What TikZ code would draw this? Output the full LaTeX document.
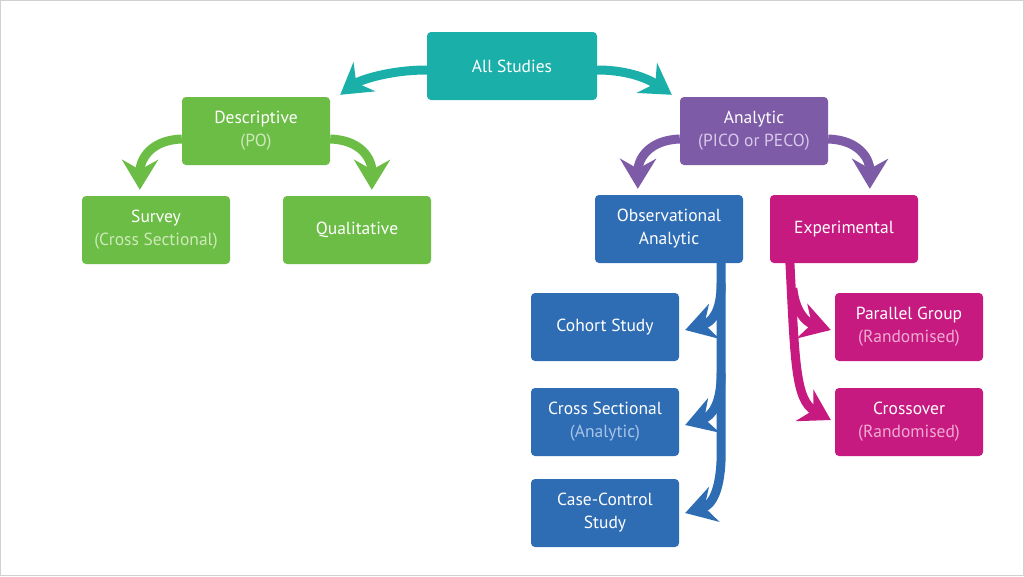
\documentclass[tikz,border=0pt]{standalone}
\usepackage{fontspec}
\setmainfont{PT Sans}
\usetikzlibrary{arrows.meta,calc}
\definecolor{cteal}{HTML}{1AAFA9}
\definecolor{cgreen}{HTML}{6CBD45}
\definecolor{cgreenl}{HTML}{CDE9B8}
\definecolor{cpurple}{HTML}{7D5BA6}
\definecolor{cpurplel}{HTML}{D8C8EA}
\definecolor{cblue}{HTML}{2E6DB4}
\definecolor{cbluel}{HTML}{A8C4E8}
\definecolor{cmag}{HTML}{C71A80}
\definecolor{cmagl}{HTML}{F0AAD2}
\tikzset{
  box/.style={rounded corners=4pt, minimum width=148pt, minimum height=68pt, text=white, align=center, font=\fontsize{17.5}{23}\selectfont, inner sep=0pt},
  arr/.style={line width=9pt, -{Stealth[length=30pt,width=36pt,inset=10pt]}},
}
\begin{document}
\begin{tikzpicture}[x=1pt,y=-1pt]
\useasboundingbox (0,0) rectangle (1024,576);
\draw[draw=black!18, line width=1pt, fill=white] (0.5,0.5) rectangle (1023.5,575.5);

\node[box, fill=cteal, minimum width=170pt] (all) at (512,66) {All Studies};
\node[box, fill=cgreen] (desc) at (256,131) {Descriptive\\\textcolor{cgreenl}{(PO)}};
\node[box, fill=cgreen] (surv) at (156,230) {Survey\\\textcolor{cgreenl}{(Cross Sectional)}};
\node[box, fill=cgreen] (qual) at (357,230) {Qualitative};
\node[box, fill=cpurple] (ana) at (754,131) {Analytic\\\textcolor{cpurplel}{(PICO or PECO)}};
\node[box, fill=cblue] (obs) at (669,229) {Observational\\Analytic};
\node[box, fill=cmag] (exp) at (844,229) {Experimental};
\node[box, fill=cblue] (coh) at (605,327) {Cohort Study};
\node[box, fill=cmag] (par) at (909,327) {Parallel Group\\\textcolor{cmagl}{(Randomised)}};
\node[box, fill=cblue] (cross) at (605,422) {Cross Sectional\\\textcolor{cbluel}{(Analytic)}};
\node[box, fill=cmag] (co) at (909,422) {Crossover\\\textcolor{cmagl}{(Randomised)}};
\node[box, fill=cblue] (cc) at (605,513) {Case-Control\\Study};

% All Studies
\draw[arr, cteal] ($(all.west)+(0,4)$) .. controls (390,70) and (360,80) .. ($(desc.north east)+(10,-2)$);
\draw[arr, cteal] ($(all.east)+(0,4)$) .. controls (630,70) and (650,80) .. ($(ana.north west)+(-8,-2)$);
% Descriptive
\draw[arr, cgreen] ($(desc.west)+(0,8)$) .. controls (150,140) and (140,160) .. ($(surv.north west)+(58,-6)$);
\draw[arr, cgreen] ($(desc.east)+(0,8)$) .. controls (362,140) and (372,160) .. ($(qual.north west)+(89,-6)$);
% Analytic
\draw[arr, cpurple] ($(ana.west)+(0,8)$) .. controls (648,140) and (638,160) .. ($(obs.north west)+(43,-6)$);
\draw[arr, cpurple] ($(ana.east)+(0,8)$) .. controls (860,140) and (870,160) .. ($(exp.north west)+(100,-6)$);
% Observational
\draw[arr, cblue] ($(obs.south east)+(-22,-2)$) -- ($(obs.south east)+(-22,190)$) .. controls (721,490) and (712,505) .. ($(cc.east)+(6,0)$);
\draw[arr, cblue] ($(obs.south east)+(-22,20)$) .. controls (721,312) and (712,322) .. ($(coh.east)+(6,3)$);
\draw[arr, cblue] ($(obs.south east)+(-22,110)$) .. controls (721,404) and (712,416) .. ($(cross.east)+(6,3)$);
% Experimental
\draw[arr, cmag] ($(exp.south west)+(20,-2)$) .. controls (795,360) and (795,400) .. ($(co.west)+(-4,-2)$);
\draw[arr, cmag] ($(exp.south west)+(23,25)$) .. controls (795,310) and (805,322) .. ($(par.west)+(-4,3)$);
\end{tikzpicture}
\end{document}
